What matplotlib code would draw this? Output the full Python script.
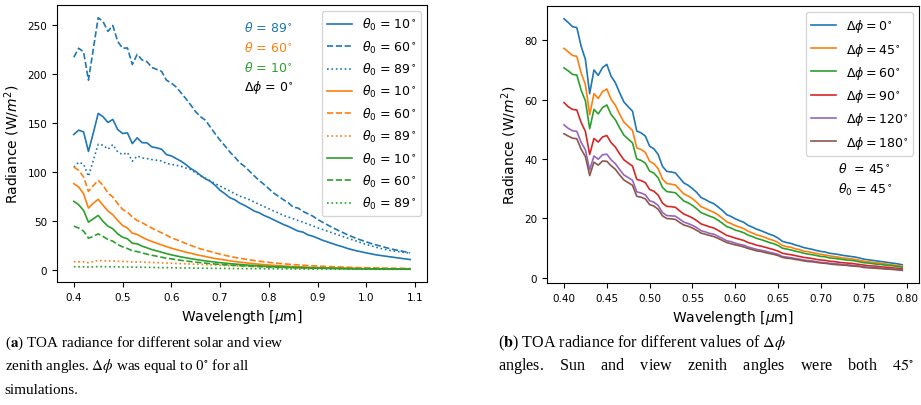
import numpy as np
import matplotlib
matplotlib.use("Agg")
import matplotlib.pyplot as plt

# wavelength grids (um)
wl_a = np.round(0.40 + 0.01 * np.arange(70), 3)
wl_b = np.round(0.40 + 0.005 * np.arange(80), 4)

# (a) delta phi = 0, view zenith theta / solar zenith theta0
t89_s10 = [138.4, 142.8, 141.0, 121.0, 140.0, 160.0, 156.5, 150.7, 153.8, 143.5,
           139.4, 140.0, 129.0, 135.0, 130.0, 129.8, 125.7, 124.7, 123.3, 117.8,
           116.4, 113.7, 111.0, 107.5, 103.4, 100.5, 96.5, 93.0, 90.4, 86.3,
           81.2, 77.7, 73.6, 71.6, 68.2, 65.8, 63.0, 60.0, 58.2, 55.5,
           53.4, 51.0, 48.6, 46.2, 44.2, 41.8, 39.4, 38.4, 35.6, 34.2,
           32.2, 30.1, 28.4, 26.7, 25.0, 23.6, 21.9, 20.5, 19.2, 18.2,
           17.1, 16.1, 15.1, 14.4, 13.7, 13.0, 12.3, 11.6, 11.0, 10.3]
t89_s60 = [217.5, 226.7, 223.0, 194.0, 226.0, 258.0, 254.0, 244.0, 250.0, 233.6,
           226.7, 227.0, 210.0, 220.5, 214.7, 213.0, 207.0, 205.0, 203.0, 194.0,
           191.0, 187.0, 181.0, 175.0, 168.5, 161.6, 156.5, 153.0, 146.0, 139.0,
           132.5, 126.7, 120.5, 115.4, 109.6, 105.8, 101.0, 96.0, 91.4, 87.3,
           82.9, 78.4, 75.0, 71.6, 68.5, 64.0, 63.0, 59.6, 57.2, 54.8,
           51.4, 48.6, 45.9, 43.2, 40.8, 38.4, 36.0, 33.9, 31.8, 30.1,
           28.4, 26.7, 25.3, 24.0, 22.6, 21.2, 20.2, 19.2, 18.2, 17.1]
t89_s89 = [105.0, 110.0, 108.0, 95.5, 112.0, 128.4, 127.4, 123.3, 128.0, 120.5,
           117.8, 119.9, 111.0, 116.4, 114.4, 113.7, 112.7, 112.0, 111.3, 108.6,
           107.9, 106.8, 105.8, 104.0, 102.4, 99.0, 96.0, 93.5, 90.8, 88.0,
           85.6, 82.9, 80.5, 77.7, 75.3, 73.6, 71.6, 69.2, 66.8, 64.7,
           62.3, 60.0, 57.9, 55.5, 53.8, 52.0, 50.3, 48.6, 46.6, 44.9,
           42.8, 41.1, 39.4, 37.7, 36.0, 34.2, 32.5, 30.8, 29.1, 27.4,
           25.7, 24.3, 22.9, 21.6, 20.5, 19.5, 18.8, 18.2, 17.5, 16.8]
t60_s10 = [88.0, 84.6, 77.7, 63.0, 68.0, 72.0, 65.8, 60.0, 56.2, 50.3,
           45.2, 42.5, 37.3, 36.0, 33.2, 30.8, 28.8, 27.0, 25.3, 23.6,
           21.9, 20.5, 19.2, 17.8, 16.8, 15.4, 14.4, 13.4, 12.3, 11.3,
           10.6, 9.8, 9.0, 8.3, 7.7, 7.1, 6.5, 6.0, 5.5, 5.1,
           4.7, 4.3, 4.0, 3.7, 3.4, 3.1, 2.9, 2.7, 2.5, 2.3,
           2.1, 1.9, 1.8, 1.7, 1.5, 1.4, 1.3, 1.2, 1.1, 1.0,
           1.0, 0.9, 0.8, 0.8, 0.7, 0.7, 0.6, 0.6, 0.6, 0.5]
t60_s60 = [105.0, 101.7, 95.0, 80.0, 86.0, 91.4, 86.3, 78.4, 74.3, 67.5,
           61.6, 58.9, 53.8, 50.3, 48.0, 45.2, 42.5, 40.0, 37.7, 35.3,
           32.5, 30.8, 28.8, 26.7, 24.7, 23.0, 21.2, 19.9, 18.5, 17.1,
           15.8, 14.6, 13.5, 12.5, 11.6, 10.8, 10.0, 9.3, 8.6, 8.0,
           7.4, 6.9, 6.4, 6.0, 5.5, 5.1, 4.8, 4.5, 4.2, 3.9,
           3.6, 3.4, 3.2, 3.0, 2.8, 2.6, 2.4, 2.3, 2.1, 2.0,
           1.9, 1.8, 1.7, 1.6, 1.5, 1.4, 1.3, 1.3, 1.2, 1.1]
t60_s89 = [8.0, 8.0, 7.8, 7.0, 8.2, 9.2, 9.0, 8.8, 8.8, 8.5,
           8.3, 8.2, 7.8, 7.9, 7.7, 7.5, 7.3, 7.1, 6.9, 6.7,
           6.5, 6.3, 6.1, 5.9, 5.7, 5.5, 5.3, 5.1, 4.9, 4.7,
           4.5, 4.3, 4.1, 3.9, 3.7, 3.6, 3.4, 3.3, 3.1, 3.0,
           2.9, 2.7, 2.6, 2.5, 2.4, 2.3, 2.2, 2.1, 2.0, 1.9,
           1.8, 1.7, 1.7, 1.6, 1.5, 1.5, 1.4, 1.3, 1.3, 1.2,
           1.2, 1.1, 1.1, 1.0, 1.0, 1.0, 0.9, 0.9, 0.9, 0.8]
t10_s10 = [69.9, 66.4, 60.6, 48.6, 52.0, 55.5, 49.3, 44.5, 41.8, 36.6,
           33.2, 31.5, 27.0, 26.4, 24.0, 22.3, 20.5, 19.2, 17.8, 16.4,
           15.1, 14.0, 13.0, 12.1, 11.2, 10.4, 9.6, 8.9, 8.3, 7.7,
           7.1, 6.6, 6.1, 5.7, 5.3, 4.9, 4.5, 4.2, 3.9, 3.6,
           3.3, 3.1, 2.9, 2.7, 2.5, 2.3, 2.1, 2.0, 1.8, 1.7,
           1.6, 1.5, 1.4, 1.3, 1.2, 1.1, 1.0, 0.9, 0.9, 0.8,
           0.8, 0.7, 0.7, 0.6, 0.6, 0.6, 0.5, 0.5, 0.5, 0.4]
t10_s60 = [44.5, 42.5, 39.4, 32.2, 34.0, 36.6, 33.9, 30.8, 29.1, 25.7,
           23.3, 21.6, 19.2, 18.5, 17.1, 15.8, 14.7, 13.7, 12.7, 11.6,
           11.0, 10.2, 9.5, 8.8, 8.2, 7.6, 7.1, 6.6, 6.1, 5.7,
           5.3, 4.9, 4.6, 4.3, 4.0, 3.7, 3.5, 3.2, 3.0, 2.8,
           2.6, 2.5, 2.3, 2.2, 2.0, 1.9, 1.8, 1.7, 1.6, 1.5,
           1.4, 1.3, 1.2, 1.2, 1.1, 1.0, 1.0, 0.9, 0.9, 0.8,
           0.8, 0.7, 0.7, 0.7, 0.6, 0.6, 0.6, 0.5, 0.5, 0.5]
t10_s89 = [2.9, 2.9, 2.8, 2.5, 2.8, 3.1, 3.0, 2.9, 2.9, 2.8,
           2.7, 2.6, 2.5, 2.5, 2.4, 2.3, 2.2, 2.1, 2.0, 2.0,
           1.9, 1.8, 1.7, 1.7, 1.6, 1.5, 1.5, 1.4, 1.3, 1.3,
           1.2, 1.2, 1.1, 1.1, 1.0, 1.0, 0.9, 0.9, 0.9, 0.8,
           0.8, 0.8, 0.7, 0.7, 0.7, 0.6, 0.6, 0.6, 0.6, 0.5,
           0.5, 0.5, 0.5, 0.5, 0.4, 0.4, 0.4, 0.4, 0.4, 0.4,
           0.3, 0.3, 0.3, 0.3, 0.3, 0.3, 0.3, 0.3, 0.3, 0.2]

# (b) theta = theta0 = 45, different delta phi
dphi_0 = [87.3, 86.0, 84.6, 84.3, 78.0, 73.6, 62.0, 70.0, 68.2, 70.8,
          71.9, 67.9, 65.7, 62.3, 59.2, 57.6, 56.1, 49.4, 48.8, 47.7,
          44.3, 43.4, 41.5, 37.5, 35.8, 35.6, 35.3, 33.6, 31.9, 31.1,
          30.0, 28.7, 27.0, 26.3, 25.5, 24.9, 23.8, 22.6, 21.2, 20.6,
          19.8, 19.2, 18.6, 17.6, 17.0, 16.3, 15.8, 15.2, 14.6, 14.1,
          13.3, 12.2, 11.8, 11.5, 11.0, 10.6, 10.1, 9.8, 9.5, 9.1,
          8.8, 8.6, 8.2, 8.0, 7.8, 7.5, 7.3, 7.1, 6.9, 6.6,
          6.2, 6.0, 5.8, 5.6, 5.4, 5.2, 5.0, 4.8, 4.6, 4.3]
dphi_45 = [77.3, 76.1, 74.9, 74.6, 69.0, 65.1, 54.9, 62.0, 60.4, 62.7,
           63.6, 60.1, 58.1, 55.1, 52.4, 51.0, 49.6, 43.7, 43.2, 42.2,
           39.2, 38.4, 36.7, 33.2, 31.7, 31.5, 31.2, 29.7, 28.2, 27.5,
           26.6, 25.4, 23.9, 23.3, 22.6, 22.0, 21.1, 20.0, 18.8, 18.2,
           17.5, 17.0, 16.5, 15.6, 15.0, 14.4, 14.0, 13.5, 12.9, 12.5,
           11.8, 10.8, 10.4, 10.2, 9.7, 9.4, 8.9, 8.7, 8.4, 8.1,
           7.8, 7.6, 7.3, 7.1, 6.9, 6.6, 6.5, 6.3, 6.1, 5.8,
           5.5, 5.3, 5.1, 5.0, 4.8, 4.6, 4.4, 4.2, 4.0, 3.8]
dphi_60 = [70.7, 69.7, 68.5, 68.3, 63.2, 59.6, 50.2, 56.7, 55.2, 57.3,
           58.2, 55.0, 53.2, 50.5, 48.0, 46.7, 45.4, 40.0, 39.5, 38.6,
           35.9, 35.2, 33.6, 30.4, 29.0, 28.8, 28.6, 27.2, 25.8, 25.2,
           24.3, 23.2, 21.9, 21.3, 20.7, 20.2, 19.3, 18.3, 17.2, 16.7,
           16.0, 15.6, 15.1, 14.3, 13.8, 13.2, 12.8, 12.3, 11.8, 11.4,
           10.8, 9.9, 9.6, 9.3, 8.9, 8.6, 8.2, 7.9, 7.7, 7.4,
           7.1, 7.0, 6.6, 6.5, 6.3, 6.1, 5.9, 5.8, 5.6, 5.3,
           5.0, 4.9, 4.7, 4.5, 4.4, 4.2, 4.1, 3.9, 3.7, 3.5]
dphi_90 = [59.0, 57.6, 56.7, 56.5, 52.3, 49.3, 41.5, 46.9, 45.7, 47.4,
           47.9, 45.5, 44.0, 41.7, 39.7, 38.6, 37.6, 33.1, 32.7, 32.0,
           29.7, 29.1, 27.8, 25.1, 24.0, 23.9, 23.7, 22.5, 21.4, 20.8,
           20.1, 19.2, 18.1, 17.6, 17.1, 16.7, 15.9, 15.1, 14.2, 13.8,
           13.3, 12.9, 12.5, 11.8, 11.4, 10.9, 10.6, 10.2, 9.8, 9.4,
           8.9, 8.2, 7.9, 7.7, 7.4, 7.1, 6.8, 6.6, 6.4, 6.1,
           5.9, 5.8, 5.5, 5.4, 5.2, 5.0, 4.9, 4.8, 4.6, 4.4,
           4.2, 4.0, 3.9, 3.8, 3.6, 3.5, 3.4, 3.2, 3.1, 2.9]
dphi_120 = [51.5, 50.3, 49.5, 49.3, 45.6, 43.1, 36.3, 41.0, 39.9, 41.4,
            41.6, 39.7, 38.4, 36.4, 34.6, 33.7, 32.8, 28.9, 28.5, 27.9,
            25.9, 25.4, 24.3, 21.9, 20.9, 20.8, 20.7, 19.7, 18.7, 18.2,
            17.6, 16.8, 15.8, 15.4, 14.9, 14.6, 13.9, 13.2, 12.4, 12.1,
            11.6, 11.2, 10.9, 10.3, 9.9, 9.5, 9.2, 8.9, 8.5, 8.2,
            7.8, 7.1, 6.9, 6.7, 6.4, 6.2, 5.9, 5.7, 5.6, 5.3,
            5.1, 5.0, 4.8, 4.7, 4.6, 4.4, 4.3, 4.2, 4.0, 3.9,
            3.6, 3.5, 3.4, 3.3, 3.2, 3.0, 2.9, 2.8, 2.7, 2.5]
dphi_180 = [48.5, 47.7, 47.0, 46.8, 43.3, 40.8, 34.4, 38.9, 37.9, 39.3,
            39.2, 37.7, 36.5, 34.6, 32.9, 32.0, 31.1, 27.4, 27.1, 26.5,
            24.6, 24.1, 23.0, 20.8, 19.9, 19.8, 19.6, 18.6, 17.7, 17.3,
            16.7, 15.9, 15.0, 14.6, 14.2, 13.8, 13.2, 12.5, 11.8, 11.4,
            11.0, 10.7, 10.3, 9.8, 9.4, 9.0, 8.8, 8.4, 8.1, 7.8,
            7.4, 6.8, 6.5, 6.4, 6.1, 5.9, 5.6, 5.4, 5.3, 5.1,
            4.9, 4.8, 4.6, 4.4, 4.3, 4.2, 4.1, 3.9, 3.8, 3.7,
            3.4, 3.3, 3.2, 3.1, 3.0, 2.9, 2.8, 2.7, 2.6, 2.4]

fig = plt.figure(figsize=(9.21, 4.06), dpi=100)
ax1 = fig.add_axes([0.0619, 0.303, 0.4017, 0.682])
ax2 = fig.add_axes([0.594, 0.3005, 0.404, 0.682])

lw = 1.2
groups = [("C0", [t89_s10, t89_s60, t89_s89]),
          ("C1", [t60_s10, t60_s60, t60_s89]),
          ("C2", [t10_s10, t10_s60, t10_s89])]
styles = ["-", "--", ":"]
sza = ["10", "60", "89"]
for col, series in groups:
    for vals, ls, s in zip(series, styles, sza):
        ax1.plot(wl_a, vals, color=col, ls=ls, lw=lw,
                 label=r"$\theta_0$ = " + s + r"$^{\circ}$")

ax1.legend(loc="upper right", fontsize=9)
ax1.set_xlabel(r"Wavelength [$\mu$m]", fontsize=10)
ax1.set_ylabel(r"Radiance (W/$m^2$)", fontsize=10)
ax1.set_xticks([0.4, 0.5, 0.6, 0.7, 0.8, 0.9, 1.0, 1.1])
ax1.tick_params(labelsize=7.5)
ax1.text(0.505, 0.92, r"$\theta$ = 89$^{\circ}$", color="C0", fontsize=9,
         transform=ax1.transAxes, va="center")
ax1.text(0.505, 0.849, r"$\theta$ = 60$^{\circ}$", color="C1", fontsize=9,
         transform=ax1.transAxes, va="center")
ax1.text(0.505, 0.778, r"$\theta$ = 10$^{\circ}$", color="C2", fontsize=9,
         transform=ax1.transAxes, va="center")
ax1.text(0.505, 0.707, r"$\Delta\phi$ = 0$^{\circ}$", color="black", fontsize=9,
         transform=ax1.transAxes, va="center")

dphi_series = [dphi_0, dphi_45, dphi_60, dphi_90, dphi_120, dphi_180]
dphi_names = ["0", "45", "60", "90", "120", "180"]
for vals, name in zip(dphi_series, dphi_names):
    ax2.plot(wl_b, vals, lw=lw, label=r"$\Delta\phi = " + name + r"^{\circ}$")
ax2.legend(loc="upper right", fontsize=9)
ax2.set_xlabel(r"Wavelength [$\mu$m]", fontsize=10)
ax2.set_ylabel(r"Radiance (W/$m^2$)", fontsize=10)
ax2.set_xticks([0.40, 0.45, 0.50, 0.55, 0.60, 0.65, 0.70, 0.75, 0.80])
ax2.tick_params(labelsize=7.5)
ax2.text(0.782, 0.415, r"$\theta$  = 45$^{\circ}$", fontsize=9,
         transform=ax2.transAxes, va="center")
ax2.text(0.782, 0.34, r"$\theta_0$ = 45$^{\circ}$", fontsize=9,
         transform=ax2.transAxes, va="center")

# captions
cap = dict(family="Liberation Serif", math_fontfamily="stix", fontsize=10.9,
           va="center", ha="left")
fig.text(0.005, 0.155, r"($\mathbf{a}$) TOA radiance for different solar and view", **cap)
fig.text(0.005, 0.0985, r"zenith angles. $\Delta\phi$ was equal to 0$^{\circ}$ for all", **cap)
fig.text(0.005, 0.039, "simulations.", **cap)
capb = dict(cap, fontsize=11.6)
fig.text(0.541, 0.155,
         r"($\mathbf{b}$) TOA radiance for different values of $\Delta\phi$", **capb)
fig.text(0.541, 0.0985,
         r"angles.    Sun    and    view    zenith    angles    were    both    $45^{\circ}$",
         **capb)

fig.savefig("out.png", dpi=100)
